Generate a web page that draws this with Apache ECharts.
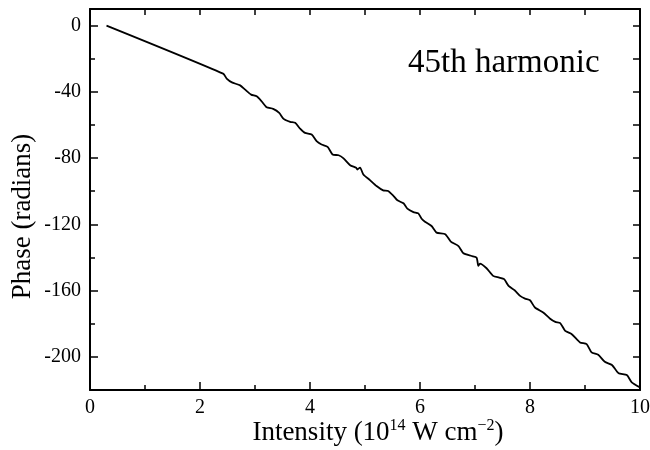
<!DOCTYPE html>
<html>
<head>
<meta charset="utf-8">
<script src="https://cdn.jsdelivr.net/npm/echarts@6/dist/echarts.min.js"></script>
<style>html,body{margin:0;padding:0;background:#fff}#c{width:650px;height:450px}</style>
</head>
<body>
<div id="c"></div>
<script>
const intensity = [0.3, 2.42, 2.49, 2.58, 2.73, 2.82, 2.93, 3.03, 3.12, 3.21, 3.33, 3.44, 3.52, 3.64, 3.73, 3.82, 3.91, 4.03, 4.12, 4.21,
  4.32, 4.41, 4.52, 4.61, 4.73, 4.84, 4.86, 4.91, 4.97, 5.09, 5.21, 5.33, 5.42, 5.52, 5.59, 5.70, 5.77, 5.88, 5.97, 6.03,
  6.09, 6.21, 6.30, 6.46, 6.56, 6.70, 6.79, 6.94, 7.03, 7.06, 7.09, 7.21, 7.33, 7.44, 7.53, 7.61, 7.72, 7.82, 7.91, 8.00,
  8.09, 8.24, 8.36, 8.46, 8.55, 8.64, 8.76, 8.91, 9.03, 9.12, 9.24, 9.36, 9.49, 9.61, 9.76, 9.85, 10.0];
const phase = [0, -29.0, -32.2, -34.3, -36.1, -38.7, -41.7, -42.7, -45.7, -49.3, -50.3, -52.7, -56.3, -58.1, -58.7, -62.2, -64.8, -65.8, -69.8, -71.8,
  -73.2, -77.8, -78.3, -80.2, -84.3, -85.8, -86.9, -85.7, -89.9, -93.3, -96.9, -99.5, -99.9, -102.9, -105.5, -107.3, -110.5, -112.6, -113.4, -116.6,
  -118.4, -121.0, -125.0, -126.0, -130.4, -133.1, -137.5, -139.1, -140.1, -145.1, -143.7, -146.5, -151.1, -152.1, -153.1, -157.2, -159.8, -163.2, -164.8, -165.8,
  -170.2, -173.2, -176.8, -178.9, -179.6, -184.3, -186.3, -191.3, -192.3, -197.3, -198.7, -203.0, -204.9, -209.9, -211.0, -215.4, -218.4];
const xMajor = [0, 2, 4, 6, 8, 10];
const xMinor = [1, 3, 5, 7, 9];
const xAll = [1, 2, 3, 4, 5, 6, 7, 8, 9];
const yMajor = [0, -40, -80, -120, -160, -200];
const yMinor = [-20, -60, -100, -140, -180];
const yAll = [0, -20, -40, -60, -80, -100, -120, -140, -160, -180, -200];
const harmonicLabel = '45th harmonic';

const FONT = 'Liberation Serif';
const lineStyle = {color: '#000', width: 2};
const tickStyle = {color: '#000', width: 1.5};
const data = intensity.map((x, i) => [x, phase[i]]);

const chart = echarts.init(document.getElementById('c'), null, {renderer: 'canvas'});
chart.setOption({
  animation: false,
  backgroundColor: '#fff',
  grid: {left: 90, right: 10, top: 9, bottom: 60, containLabel: false, outerBoundsMode: 'none'},
  title: {
    text: harmonicLabel, left: 408, top: 47, padding: 0,
    textStyle: {fontFamily: FONT, fontSize: 33, fontWeight: 'normal', color: '#000'}
  },
  xAxis: [
    {type: 'value', position: 'bottom', min: 0, max: 10,
     name: 'Intensity (10{sup|14} W cm{sup|−2})', nameLocation: 'middle', nameGap: 28, nameMoveOverlap: false,
     nameTextStyle: {fontFamily: FONT, fontSize: 27, color: '#000', padding: [0, 0, 0, 26],
       rich: {sup: {fontFamily: FONT, fontSize: 16, color: '#000', padding: [0, 0, 13, 0]}}},
     axisLine: {show: true, onZero: false, lineStyle},
     axisTick: {show: true, inside: true, length: 8, customValues: xMajor, lineStyle: tickStyle},
     axisLabel: {show: true, customValues: xMajor, margin: 8, fontFamily: FONT, fontSize: 20, color: '#000'},
     splitLine: {show: false}},
    {type: 'value', position: 'bottom', min: 0, max: 10,
     axisLine: {show: false, onZero: false},
     axisTick: {show: true, inside: true, length: 5, customValues: xMinor, lineStyle: tickStyle},
     axisLabel: {show: false}, splitLine: {show: false}},
    {type: 'value', position: 'top', min: 0, max: 10,
     axisLine: {show: true, onZero: false, lineStyle},
     axisTick: {show: true, inside: true, length: 6, customValues: xAll, lineStyle: tickStyle},
     axisLabel: {show: false}, splitLine: {show: false}}
  ],
  yAxis: [
    {type: 'value', position: 'left', min: -220, max: 10,
     name: 'Phase (radians)', nameLocation: 'middle', nameGap: 54, nameMoveOverlap: false,
     nameTextStyle: {fontFamily: FONT, fontSize: 27, color: '#000', padding: [0, 34, 0, 0]},
     axisLine: {show: true, onZero: false, lineStyle},
     axisTick: {show: true, inside: true, length: 8, customValues: yMajor, lineStyle: tickStyle},
     axisLabel: {show: true, customValues: yMajor, margin: 9, fontFamily: FONT, fontSize: 20, color: '#000'},
     splitLine: {show: false}},
    {type: 'value', position: 'left', min: -220, max: 10,
     axisLine: {show: false, onZero: false},
     axisTick: {show: true, inside: true, length: 5, customValues: yMinor, lineStyle: tickStyle},
     axisLabel: {show: false}, splitLine: {show: false}},
    {type: 'value', position: 'right', min: -220, max: 10,
     axisLine: {show: true, onZero: false, lineStyle},
     axisTick: {show: true, inside: true, length: 7, customValues: yAll, lineStyle: tickStyle},
     axisLabel: {show: false}, splitLine: {show: false}}
  ],
  series: [{
    type: 'line', xAxisIndex: 0, yAxisIndex: 0, data: data,
    showSymbol: false, symbol: 'none', smooth: 0.2,
    lineStyle: {color: '#000', width: 1.8}
  }]
});
</script>
</body>
</html>
